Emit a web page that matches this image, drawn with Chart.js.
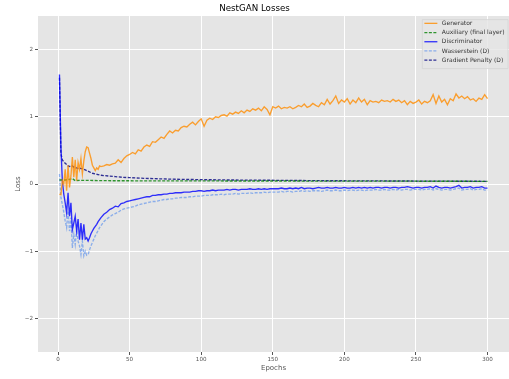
<!DOCTYPE html>
<html>
<head>
<meta charset="utf-8">
<script src="https://cdn.jsdelivr.net/npm/chart.js@4/dist/chart.umd.min.js"></script>
<style>
  html, body { margin: 0; padding: 0; background: #ffffff; }
  #wrap { width: 509px; height: 379px; }
</style>
</head>
<body>
<div id="wrap"><canvas id="myChart" width="509" height="379"></canvas></div>
<script>
// epochs for the noisy series (every epoch at the start, then every second one)
const epochs = [
  1, 2, 3, 4, 5, 6, 7, 8, 9, 10, 11, 12, 13, 14, 15, 16, 17, 18, 19, 20,
  21, 22, 23, 24, 25, 26, 27, 28, 29, 30,
  32, 34, 36, 38, 40, 42, 44, 46, 48, 50, 52, 54, 56, 58, 60, 62, 64, 66, 68, 70,
  72, 74, 76, 78, 80, 82, 84, 86, 88, 90, 92, 94, 96, 98, 100, 102, 104, 106, 108, 110,
  112, 114, 116, 118, 120, 122, 124, 126, 128, 130, 132, 134, 136, 138, 140, 142, 144, 146, 148, 150,
  152, 154, 156, 158, 160, 162, 164, 166, 168, 170, 172, 174, 176, 178, 180, 182, 184, 186, 188, 190,
  192, 194, 196, 198, 200, 202, 204, 206, 208, 210, 212, 214, 216, 218, 220, 222, 224, 226, 228, 230,
  232, 234, 236, 238, 240, 242, 244, 246, 248, 250, 252, 254, 256, 258, 260, 262, 264, 266, 268, 270,
  272, 274, 276, 278, 280, 282, 284, 286, 288, 290, 292, 294, 296, 298, 300
];

const generatorLoss = [
  -0.15, -0.16, 0.05, 0.0, 0.22, -0.1, 0.28, -0.05, 0.12, 0.4, 0.1, 0.36, 0.05, 0.32, 0.22, 0.38, 0.15, 0.34, 0.48, 0.55,
  0.54, 0.46, 0.38, 0.28, 0.24, 0.2, 0.24, 0.22, 0.27, 0.26,
  0.27, 0.29, 0.28, 0.30, 0.31, 0.36, 0.32, 0.38, 0.42, 0.44,
  0.47, 0.45, 0.51, 0.49, 0.55, 0.58, 0.56, 0.63, 0.62, 0.66,
  0.70, 0.68, 0.74, 0.79, 0.76, 0.80, 0.79, 0.84, 0.86, 0.85,
  0.89, 0.92, 0.88, 0.93, 0.97, 0.86, 0.95, 0.98, 0.96, 1.0,
  0.99, 1.02, 1.03, 1.01, 1.06, 1.04, 1.07, 1.05, 1.09, 1.06,
  1.10, 1.08, 1.12, 1.10, 1.13, 1.09, 1.15, 1.11, 1.03, 1.15,
  1.13, 1.16, 1.12, 1.14, 1.13, 1.15, 1.12, 1.14, 1.17, 1.15,
  1.19, 1.14, 1.16, 1.20, 1.17, 1.15, 1.21, 1.18, 1.26, 1.19,
  1.24, 1.31, 1.20, 1.25, 1.22, 1.27, 1.19, 1.25, 1.21, 1.28,
  1.22, 1.26, 1.18, 1.24, 1.22, 1.23, 1.21, 1.25, 1.23, 1.24,
  1.22, 1.26, 1.23, 1.25, 1.21, 1.24, 1.18, 1.23, 1.20, 1.22,
  1.25, 1.19, 1.23, 1.21, 1.24, 1.33, 1.20, 1.31, 1.22, 1.26,
  1.18, 1.27, 1.24, 1.34, 1.28, 1.31, 1.27, 1.30, 1.25, 1.27,
  1.23, 1.28, 1.26, 1.33, 1.27
];

const discriminatorLoss = [
  1.63, 0.55, 0.05, -0.15, -0.28, -0.43, -0.13, -0.48, -0.28, -0.68, -0.58, -0.48, -0.70, -0.52, -0.83, -0.58, -0.83, -0.60, -0.82, -0.80,
  -0.85, -0.80, -0.74, -0.70, -0.66, -0.63, -0.60, -0.56, -0.53, -0.50,
  -0.45, -0.42, -0.38, -0.36, -0.33, -0.34, -0.29, -0.28, -0.26, -0.25,
  -0.24, -0.23, -0.22, -0.21, -0.20, -0.19, -0.19, -0.17, -0.17, -0.16,
  -0.16, -0.15, -0.15, -0.14, -0.14, -0.13, -0.13, -0.13, -0.12, -0.12,
  -0.12, -0.11, -0.11, -0.10, -0.10, -0.11, -0.10, -0.10, -0.09, -0.10,
  -0.09, -0.09, -0.09, -0.08, -0.09, -0.08, -0.08, -0.09, -0.08, -0.08,
  -0.08, -0.07, -0.08, -0.08, -0.07, -0.08, -0.07, -0.08, -0.07, -0.07,
  -0.07, -0.07, -0.06, -0.07, -0.07, -0.06, -0.07, -0.06, -0.07, -0.05,
  -0.07, -0.06, -0.06, -0.07, -0.06, -0.05, -0.06, -0.06, -0.05, -0.06,
  -0.06, -0.05, -0.06, -0.06, -0.05, -0.06, -0.06, -0.05, -0.06, -0.05,
  -0.06, -0.05, -0.06, -0.05, -0.06, -0.05, -0.05, -0.06, -0.05, -0.05,
  -0.06, -0.05, -0.05, -0.06, -0.05, -0.05, -0.04, -0.05, -0.06, -0.05,
  -0.05, -0.06, -0.05, -0.05, -0.04, -0.06, -0.03, -0.05, -0.06, -0.05,
  -0.05, -0.06, -0.05, -0.04, -0.02, -0.06, -0.05, -0.05, -0.04, -0.06,
  -0.05, -0.05, -0.04, -0.06, -0.06
];

const wassersteinLoss = [
  0.15, -0.20, -0.30, -0.42, -0.55, -0.65, -0.40, -0.70, -0.50, -0.95, -0.75, -0.90, -0.68, -0.85, -0.92, -1.05, -0.85, -1.07, -1.00, -1.06,
  -1.05, -0.98, -0.92, -0.87, -0.82, -0.77, -0.73, -0.69, -0.65, -0.62,
  -0.56, -0.52, -0.49, -0.46, -0.44, -0.42, -0.39, -0.37, -0.36, -0.35,
  -0.34, -0.33, -0.31, -0.30, -0.29, -0.28, -0.27, -0.26, -0.26, -0.25,
  -0.24, -0.23, -0.23, -0.22, -0.22, -0.21, -0.21, -0.20, -0.20, -0.20,
  -0.19, -0.19, -0.18, -0.18, -0.18, -0.17, -0.17, -0.17, -0.16, -0.16,
  -0.16, -0.15, -0.16, -0.15, -0.15, -0.15, -0.14, -0.15, -0.14, -0.14,
  -0.14, -0.13, -0.14, -0.13, -0.13, -0.13, -0.12, -0.13, -0.12, -0.12,
  -0.12, -0.12, -0.11, -0.12, -0.11, -0.11, -0.12, -0.11, -0.11, -0.10,
  -0.11, -0.10, -0.11, -0.10, -0.10, -0.10, -0.11, -0.10, -0.09, -0.10,
  -0.10, -0.09, -0.10, -0.10, -0.09, -0.10, -0.09, -0.09, -0.10, -0.09,
  -0.09, -0.10, -0.09, -0.09, -0.09, -0.08, -0.09, -0.09, -0.08, -0.09,
  -0.09, -0.08, -0.09, -0.08, -0.09, -0.08, -0.08, -0.09, -0.08, -0.08,
  -0.08, -0.09, -0.08, -0.08, -0.07, -0.09, -0.07, -0.08, -0.09, -0.08,
  -0.08, -0.09, -0.08, -0.07, -0.06, -0.09, -0.08, -0.08, -0.07, -0.09,
  -0.08, -0.08, -0.07, -0.09, -0.09
];

// smoother series, read at fewer epochs
const penaltyEpochs = [
  1, 2, 3, 4, 5, 6, 7, 8, 9, 10, 11, 12, 13, 14, 15, 16, 17, 18, 19, 20,
  22, 24, 26, 28, 30, 35, 40, 45, 50, 60, 70, 80, 90, 100, 120, 140, 160, 180, 200, 225, 250, 275, 300
];
const penaltyLoss = [
  1.58, 0.45, 0.36, 0.33, 0.31, 0.29, 0.27, 0.26, 0.27, 0.27, 0.25, 0.24, 0.24, 0.23, 0.24, 0.23, 0.23, 0.22, 0.21, 0.20,
  0.18, 0.16, 0.15, 0.14, 0.13, 0.12, 0.11, 0.10, 0.095, 0.085, 0.078, 0.072, 0.068, 0.065, 0.06, 0.057, 0.054, 0.05, 0.048, 0.046, 0.044, 0.042, 0.04
];

const auxEpochs = [1, 5, 8, 10, 12, 15, 20, 30, 50, 75, 100, 150, 200, 250, 300];
const auxLoss = [0.06, 0.06, 0.07, 0.08, 0.05, 0.055, 0.055, 0.05, 0.048, 0.047, 0.046, 0.045, 0.043, 0.042, 0.04];

const xTicks = [0, 50, 100, 150, 200, 250, 300];
const yTicks = [-2, -1, 0, 1, 2];

function toPoints(xs, ys) {
  return xs.map((x, i) => ({ x: x, y: ys[i] }));
}

const FONT = '"DejaVu Sans", sans-serif';
const LINE_W = 1.35;

// grey panel behind the plot
const panelBackground = {
  id: "panelBackground",
  beforeDraw(chart) {
    const { ctx, chartArea } = chart;
    ctx.save();
    ctx.fillStyle = "#e5e5e5";
    ctx.fillRect(chartArea.left, chartArea.top, chartArea.right - chartArea.left, chartArea.bottom - chartArea.top);
    ctx.restore();
  },
};

// legend drawn inside the plot, top right
const insideLegend = {
  id: "insideLegend",
  afterDatasetsDraw(chart) {
    const { ctx, chartArea } = chart;
    const sets = chart.data.datasets;
    ctx.save();
    ctx.font = "6px " + FONT;
    let textW = 0;
    sets.forEach((d) => {
      textW = Math.max(textW, ctx.measureText(d.label).width);
    });
    const rowH = 9.2;
    const w = 20 + textW + 3;
    const h = sets.length * rowH + 3;
    const x0 = chartArea.right - 1.5 - w;
    const y0 = chartArea.top + 3;
    ctx.fillStyle = "rgba(229,229,229,0.8)";
    ctx.strokeStyle = "#d6d6d6";
    ctx.lineWidth = 0.8;
    ctx.beginPath();
    ctx.rect(x0 + 0.5, y0 + 0.5, w, h);
    ctx.fill();
    ctx.stroke();
    sets.forEach((d, i) => {
      const y = y0 + 4.3 + i * rowH;
      ctx.strokeStyle = d.borderColor;
      ctx.lineWidth = 1.3;
      ctx.setLineDash(d.borderDash || []);
      ctx.beginPath();
      ctx.moveTo(x0 + 2.5, y);
      ctx.lineTo(x0 + 15.5, y);
      ctx.stroke();
      ctx.setLineDash([]);
      ctx.fillStyle = "#333333";
      ctx.textBaseline = "middle";
      ctx.fillText(d.label, x0 + 20, y);
    });
    ctx.restore();
  },
};

new Chart("myChart", {
  type: "line",
  data: {
    datasets: [
      {
        label: "Generator",
        data: toPoints(epochs, generatorLoss),
        borderColor: "rgba(255,140,0,0.8)",
        borderWidth: LINE_W,
        fill: false,
      },
      {
        label: "Auxiliary (final layer)",
        data: toPoints(auxEpochs, auxLoss),
        borderColor: "rgba(0,128,0,0.8)",
        borderWidth: LINE_W,
        borderDash: [3, 1.5],
        fill: false,
      },
      {
        label: "Discriminator",
        data: toPoints(epochs, discriminatorLoss),
        borderColor: "rgba(0,0,255,0.8)",
        borderWidth: LINE_W,
        fill: false,
      },
      {
        label: "Wasserstein (D)",
        data: toPoints(epochs, wassersteinLoss),
        borderColor: "rgba(100,149,237,0.7)",
        borderWidth: LINE_W,
        borderDash: [3, 1.5],
        fill: false,
      },
      {
        label: "Gradient Penalty (D)",
        data: toPoints(penaltyEpochs, penaltyLoss),
        borderColor: "rgba(0,0,128,0.8)",
        borderWidth: LINE_W,
        borderDash: [3, 1.5],
        fill: false,
      },
    ],
  },
  options: {
    responsive: false,
    animation: false,
    layout: { padding: 0 },
    elements: { point: { radius: 0 }, line: { tension: 0 } },
    plugins: {
      legend: { display: false },
      tooltip: { enabled: false },
      title: {
        display: true,
        text: "NestGAN Losses",
        color: "#000000",
        font: { family: FONT, size: 8.7, weight: "normal" },
        padding: { top: 3.5, bottom: 2.1 },
      },
    },
    scales: {
      x: {
        type: "linear",
        min: -14,
        max: 315,
        afterBuildTicks: (scale) => {
          scale.ticks = xTicks.map((v) => ({ value: v }));
        },
        afterFit: (scale) => {
          scale.height = 27;
        },
        grid: { color: "#ffffff", lineWidth: 1, tickColor: "#555555", tickLength: 3 },
        border: { display: false },
        ticks: { color: "#555555", font: { family: FONT, size: 5.6 }, padding: 1.5, maxRotation: 0 },
        title: {
          display: true,
          text: "Epochs",
          color: "#555555",
          font: { family: FONT, size: 7 },
          padding: { top: 0, bottom: 6.8 },
        },
      },
      y: {
        type: "linear",
        min: -2.5,
        max: 2.5,
        afterBuildTicks: (scale) => {
          scale.ticks = yTicks.map((v) => ({ value: v }));
        },
        afterFit: (scale) => {
          scale.width = 38;
        },
        grid: { color: "#ffffff", lineWidth: 1, tickColor: "#555555", tickLength: 3 },
        border: { display: false },
        ticks: {
          color: "#555555",
          font: { family: FONT, size: 5.6 },
          padding: 2,
          callback: (v) => String(v).replace("-", "\u2212"),
        },
        title: {
          display: true,
          text: "Loss",
          color: "#555555",
          font: { family: FONT, size: 7 },
          padding: { top: 13.8, bottom: 0 },
        },
      },
    },
  },
  plugins: [panelBackground, insideLegend],
});
</script>
</body>
</html>
